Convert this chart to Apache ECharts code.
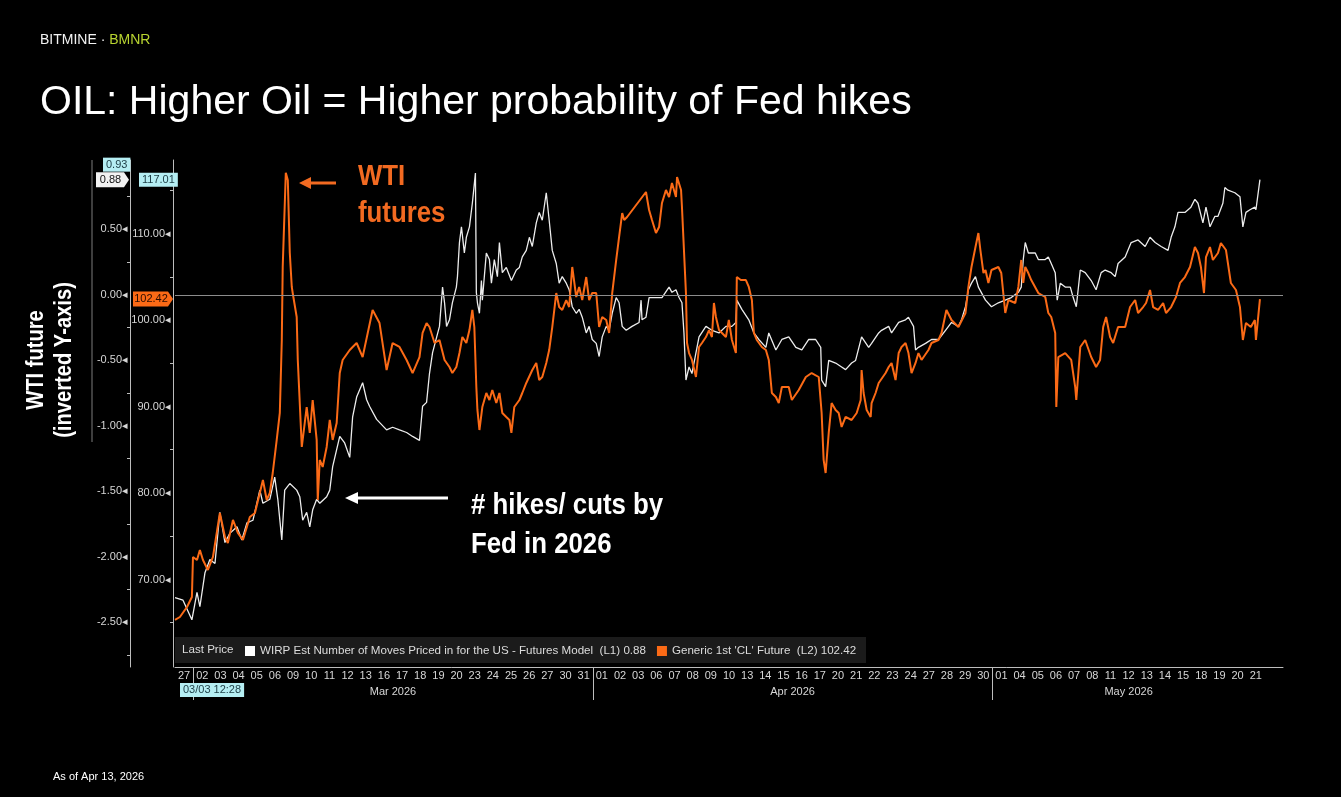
<!DOCTYPE html>
<html>
<head>
<meta charset="utf-8">
<title>OIL: Higher Oil = Higher probability of Fed hikes</title>
<script src="https://cdn.jsdelivr.net/npm/echarts@6/dist/echarts.min.js"></script>
<style>
  html, body { margin: 0; padding: 0; background: #000; }
  #chart { width: 1341px; height: 797px; }
</style>
</head>
<body>
<div id="chart"></div>
<script>
// trading days on the x axis (last slot is the empty right margin of the plot)
const dayLabels = ['27',
  '02', '03', '04', '05', '06', '09', '10', '11', '12', '13', '16', '17', '18', '19', '20', '23', '24', '25', '26', '27', '30', '31',
  '01', '02', '03', '06', '07', '08', '09', '10', '13', '14', '15', '16', '17', '20', '21', '22', '23', '24', '27', '28', '29', '30',
  '01', '04', '05', '06', '07', '08', '11', '12', '13', '14', '15', '18', '19', '20', '21', '']
const monthNames = ['Mar 2026', 'Apr 2026', 'May 2026']

const wirpName = 'WIRP Est Number of Moves Priced in for the US - Futures Model'
const wtiName = "Generic 1st 'CL' Future"
const wirpLast = 0.88
const wirpHigh = 0.93
const wtiLast = 102.42
const wtiHigh = 117.01

// L1 ticks / L2 ticks
const l1Labels = [-2.5, -2, -1.5, -1, -0.5, 0, 0.5]
const l1Minor = [-2.75, -2.25, -1.75, -1.25, -0.75, -0.25, 0.25, 0.75]
const l2Labels = [70, 80, 90, 100, 110]
const l2Minor = [65, 75, 85, 95, 105, 115]

// [trading day position, number of hikes/cuts priced]
const wirpPoints = [
  [0, -2.31], [0.44, -2.33], [0.93, -2.48], [1.21, -2.27], [1.37, -2.38], [1.65, -2.12], [1.92, -2.02], [2.2, -2.05],
  [2.47, -1.66], [2.75, -1.89], [3.02, -1.82], [3.41, -1.77], [3.68, -1.87], [3.96, -1.74], [4.29, -1.72], [4.67, -1.49],
  [4.84, -1.59], [5.22, -1.56], [5.49, -1.39], [5.66, -1.56], [5.88, -1.87], [6.04, -1.49], [6.32, -1.44], [6.7, -1.49],
  [6.87, -1.54], [7.03, -1.72], [7.25, -1.66], [7.42, -1.77], [7.58, -1.64], [7.8, -1.56], [7.97, -1.59], [8.35, -1.54],
  [8.52, -1.49], [8.68, -1.31], [9.07, -1.08], [9.34, -1.13], [9.62, -1.24], [9.78, -0.93], [10.0, -0.78], [10.33, -0.67],
  [10.55, -0.8], [10.71, -0.85], [11.1, -0.95], [11.65, -1.03], [11.98, -1.01], [12.36, -1.03], [12.75, -1.05], [13.08, -1.08],
  [13.46, -1.11], [13.63, -0.85], [13.85, -0.82], [14.01, -0.6], [14.18, -0.44], [14.56, -0.24], [14.73, 0.06], [14.84, -0.06],
  [14.95, -0.24], [15.11, -0.19], [15.27, -0.06], [15.49, 0.06], [15.55, 0.14], [15.66, 0.4], [15.77, 0.52], [15.93, 0.32],
  [16.04, 0.44], [16.21, 0.52], [16.37, 0.7], [16.54, 0.93], [16.59, 0.02], [16.65, -0.06], [16.76, -0.14], [16.87, 0.11],
  [16.92, -0.04], [17.14, 0.32], [17.31, 0.27], [17.42, 0.09], [17.58, 0.27], [17.75, 0.14], [17.86, 0.4], [18.02, 0.17],
  [18.24, 0.21], [18.52, 0.11], [18.79, 0.19], [18.96, 0.21], [19.12, 0.29], [19.34, 0.34], [19.51, 0.44], [19.67, 0.37],
  [19.89, 0.55], [20.05, 0.63], [20.22, 0.57], [20.44, 0.78], [20.6, 0.57], [20.77, 0.34], [20.99, 0.24], [21.15, 0.09],
  [21.32, 0.14], [21.54, 0.09], [21.7, 0.04], [21.87, -0.09], [22.09, -0.14], [22.25, -0.11], [22.42, -0.17], [22.64, -0.29],
  [22.8, -0.24], [22.97, -0.34], [23.19, -0.37], [23.35, -0.47], [23.52, -0.32], [23.74, -0.24], [23.9, -0.27], [24.07, -0.14],
  [24.29, -0.02], [24.45, -0.06], [24.62, -0.24], [24.84, -0.27], [25.16, -0.24], [25.55, -0.21], [25.66, -0.04], [25.71, -0.19],
  [25.93, -0.17], [26.1, -0.02], [26.48, -0.02], [26.81, -0.02], [27.2, 0.06], [27.36, 0.02], [27.58, 0.04], [27.75, -0.02],
  [27.91, -0.06], [28.02, -0.29], [28.13, -0.65], [28.3, -0.55], [28.46, -0.6], [28.85, -0.32], [29.23, -0.24], [29.56, -0.27],
  [29.95, -0.29], [30.33, -0.24], [30.66, -0.24], [30.88, -0.21], [30.93, -0.04], [31.21, -0.11], [31.59, -0.19], [31.87, -0.29],
  [32.14, -0.34], [32.53, -0.4], [32.69, -0.29], [33.08, -0.42], [33.41, -0.34], [33.79, -0.32], [34.18, -0.4], [34.51, -0.42],
  [34.89, -0.34], [35.27, -0.34], [35.55, -0.4], [35.6, -0.65], [35.82, -0.7], [35.99, -0.5], [36.37, -0.52], [36.7, -0.55],
  [36.92, -0.57], [37.25, -0.52], [37.47, -0.5], [37.8, -0.32], [38.19, -0.4], [38.35, -0.37], [38.74, -0.29], [38.9, -0.27],
  [39.29, -0.24], [39.45, -0.29], [39.84, -0.21], [40.22, -0.19], [40.38, -0.17], [40.66, -0.24], [40.77, -0.42], [40.93, -0.4],
  [41.32, -0.37], [41.65, -0.34], [42.03, -0.34], [42.42, -0.27], [42.75, -0.21], [43.13, -0.24], [43.3, -0.19], [43.52, -0.09],
  [43.68, 0.04], [43.85, 0.09], [44.07, 0.14], [44.23, 0.06], [44.62, -0.04], [44.95, -0.09], [45.33, -0.06], [45.71, -0.04],
  [46.04, -0.02], [46.43, 0.02], [46.59, 0.06], [46.7, 0.27], [46.81, 0.4], [46.98, 0.32], [47.36, 0.32], [47.53, 0.27],
  [47.91, 0.27], [48.08, 0.29], [48.24, 0.24], [48.46, 0.17], [48.57, -0.04], [48.74, 0.09], [49.01, 0.06], [49.29, 0.06],
  [49.45, -0.02], [49.62, -0.09], [49.84, 0.19], [50.11, 0.17], [50.44, 0.11], [50.71, 0.04], [50.99, 0.17], [51.21, 0.19],
  [51.54, 0.17], [51.76, 0.14], [51.92, 0.24], [52.31, 0.29], [52.64, 0.4], [53.02, 0.42], [53.41, 0.37], [53.68, 0.44],
  [53.96, 0.4], [54.29, 0.37], [54.67, 0.34], [54.84, 0.44], [55.05, 0.52], [55.22, 0.63], [55.6, 0.63], [55.93, 0.67],
  [56.15, 0.73], [56.32, 0.7], [56.59, 0.55], [56.76, 0.67], [56.98, 0.52], [57.25, 0.6], [57.42, 0.6], [57.69, 0.7],
  [57.8, 0.82], [57.97, 0.8], [58.35, 0.78], [58.63, 0.75], [58.79, 0.52], [58.96, 0.63], [59.18, 0.65], [59.45, 0.67],
  [59.51, 0.65], [59.73, 0.88]
]

// [trading day position, WTI front month, $/bbl]
const wtiPoints = [
  [0, 65.32], [0.27, 65.66], [0.66, 66.82], [0.93, 67.98], [0.99, 72.6], [1.21, 72.25], [1.37, 73.41], [1.54, 72.25],
  [1.81, 71.1], [2.09, 72.6], [2.47, 77.69], [2.75, 74.91], [2.91, 74.22], [3.19, 76.88], [3.46, 75.38], [3.74, 74.57],
  [4.12, 77.23], [4.4, 77.69], [4.67, 80.0], [4.84, 81.5], [5.05, 79.19], [5.22, 80.0], [5.38, 82.31], [5.6, 86.13],
  [5.77, 89.25], [5.88, 97.69], [5.93, 106.13], [6.1, 117.01], [6.21, 116.18], [6.32, 107.75], [6.43, 103.82], [6.48, 103.12],
  [6.7, 100.35], [6.76, 95.38], [6.87, 95.38], [6.98, 85.32], [7.25, 89.94], [7.42, 86.94], [7.58, 90.75], [7.8, 86.13],
  [7.86, 79.19], [7.97, 83.82], [8.13, 83.01], [8.35, 85.32], [8.52, 88.44], [8.68, 86.13], [8.9, 88.09], [9.07, 93.87],
  [9.23, 95.38], [9.62, 96.53], [9.78, 96.88], [10.0, 97.34], [10.33, 95.72], [10.88, 101.16], [11.26, 99.65], [11.65, 94.22],
  [11.98, 97.34], [12.36, 96.88], [12.75, 95.38], [13.08, 93.87], [13.46, 95.72], [13.63, 98.5], [13.85, 99.65], [14.01, 99.19],
  [14.29, 97.34], [14.56, 97.69], [14.84, 95.38], [15.11, 94.57], [15.27, 93.87], [15.49, 94.57], [15.66, 96.18], [15.82, 98.03],
  [16.04, 97.34], [16.21, 98.84], [16.37, 101.16], [16.48, 99.19], [16.59, 92.25], [16.65, 89.6], [16.76, 87.28], [16.92, 89.94],
  [17.14, 91.56], [17.31, 90.75], [17.47, 91.91], [17.69, 90.4], [17.86, 91.56], [18.02, 89.25], [18.24, 88.79], [18.41, 88.44],
  [18.52, 86.94], [18.68, 89.94], [18.96, 90.75], [19.12, 91.56], [19.34, 92.72], [19.67, 94.22], [19.89, 95.03], [20.05, 93.06],
  [20.22, 93.41], [20.44, 95.03], [20.6, 96.53], [20.77, 99.19], [20.99, 103.12], [21.15, 101.5], [21.32, 101.16], [21.54, 102.31],
  [21.7, 101.5], [21.87, 106.13], [22.09, 102.66], [22.25, 103.82], [22.42, 102.31], [22.64, 104.97], [22.8, 102.31], [22.97, 103.12],
  [23.19, 103.12], [23.35, 99.19], [23.52, 100.35], [23.74, 100.0], [23.9, 98.5], [24.07, 103.12], [24.29, 106.94], [24.45, 109.6],
  [24.62, 112.37], [24.73, 111.56], [24.89, 111.91], [25.93, 114.8], [26.1, 112.72], [26.26, 111.56], [26.48, 110.06], [26.65, 110.75],
  [26.81, 113.53], [27.03, 115.03], [27.2, 114.22], [27.36, 115.84], [27.58, 114.22], [27.64, 116.53], [27.86, 115.03], [27.91, 113.06],
  [28.13, 103.12], [28.19, 97.34], [28.3, 96.18], [28.46, 95.38], [28.68, 93.41], [28.85, 96.88], [29.01, 97.34], [29.23, 98.03],
  [29.4, 98.84], [29.56, 98.03], [29.67, 101.97], [29.78, 100.35], [29.95, 98.84], [30.33, 98.03], [30.49, 100.0], [30.66, 97.69],
  [30.88, 96.18], [30.93, 104.97], [31.15, 104.62], [31.43, 104.62], [31.59, 103.82], [31.76, 102.31], [31.87, 98.5], [32.03, 97.69],
  [32.31, 96.88], [32.53, 96.53], [32.69, 95.38], [32.86, 91.56], [33.08, 91.1], [33.24, 90.4], [33.41, 92.25], [33.79, 92.25],
  [33.96, 90.75], [34.34, 91.91], [34.73, 93.41], [35.05, 93.87], [35.44, 93.41], [35.6, 89.25], [35.71, 83.82], [35.82, 82.31],
  [35.99, 86.94], [36.15, 90.4], [36.37, 89.6], [36.54, 89.25], [36.7, 87.63], [36.92, 88.79], [37.25, 88.44], [37.53, 89.25],
  [37.75, 90.75], [37.8, 94.22], [37.91, 91.56], [38.08, 89.6], [38.3, 88.79], [38.35, 90.4], [38.57, 91.56], [38.74, 92.72],
  [39.12, 93.87], [39.29, 94.57], [39.45, 95.03], [39.67, 93.06], [39.84, 96.18], [40.0, 96.88], [40.22, 97.34], [40.38, 96.18],
  [40.55, 93.87], [40.77, 95.03], [40.93, 96.18], [41.1, 95.38], [41.48, 96.53], [41.65, 97.34], [42.03, 97.69], [42.2, 98.5],
  [42.47, 101.16], [42.75, 100.0], [43.13, 99.19], [43.52, 100.81], [43.68, 103.82], [43.85, 106.13], [44.07, 108.44], [44.23, 110.06],
  [44.34, 108.09], [44.51, 105.43], [44.62, 105.78], [44.78, 104.28], [44.95, 105.78], [45.33, 106.13], [45.49, 105.43], [45.71, 100.81],
  [45.88, 102.31], [46.26, 101.97], [46.43, 103.82], [46.59, 106.94], [46.7, 104.28], [46.81, 106.13], [46.98, 105.43], [47.14, 104.62],
  [47.53, 103.12], [47.91, 102.66], [48.08, 100.81], [48.24, 100.35], [48.46, 98.5], [48.52, 89.94], [48.63, 95.72], [49.01, 96.18],
  [49.34, 95.38], [49.56, 92.25], [49.62, 90.75], [49.84, 96.88], [50.11, 97.69], [50.44, 95.72], [50.71, 94.57], [50.93, 95.38],
  [51.1, 99.19], [51.26, 100.35], [51.48, 98.03], [51.65, 97.34], [51.92, 99.19], [52.31, 99.19], [52.58, 101.5], [52.86, 102.31],
  [53.02, 100.81], [53.3, 101.5], [53.46, 101.97], [53.68, 103.47], [53.85, 101.5], [54.12, 101.16], [54.4, 101.97], [54.56, 100.81],
  [54.84, 101.5], [55.11, 102.66], [55.33, 104.28], [55.6, 104.97], [55.88, 106.13], [56.15, 108.44], [56.32, 107.75], [56.48, 106.13],
  [56.65, 103.12], [56.76, 107.28], [56.98, 108.44], [57.14, 106.94], [57.42, 107.75], [57.58, 108.9], [57.86, 108.09], [58.13, 104.28],
  [58.41, 103.47], [58.63, 101.5], [58.79, 97.69], [58.96, 99.65], [59.23, 99.19], [59.45, 100.0], [59.51, 97.69], [59.73, 102.42]
]

// month separators and month-label centres, from where the day numbers restart
const monthStarts = []
dayLabels.forEach((d, i) => {
  if (i > 0 && d !== '' && +d < +dayLabels[i - 1]) monthStarts.push(i)
})
const lastDay = dayLabels.filter(d => d !== '').length
const monthMids = monthStarts.map((s, i) => (s + (monthStarts[i + 1] || lastDay)) / 2)

const FONT = "'Liberation Sans', Arial, sans-serif"
const ORANGE = '#fb6a16'
const AXIS = '#bdbdbd'
const TICK_TXT = '#d6d6d6'

const chart = echarts.init(document.getElementById('chart'))

chart.setOption({
  backgroundColor: '#000',
  animation: false,
  textStyle: { fontFamily: FONT },
  grid: { left: 175, right: 58, top: 160, bottom: 130 },
  legend: {
    left: 245,
    top: 645,
    padding: 0,
    selectedMode: false,
    icon: 'rect',
    itemWidth: 10,
    itemHeight: 10,
    itemGap: 11,
    data: [wirpName, wtiName],
    formatter: name => name === wirpName ? `${name}  (L1) ${wirpLast}` : `${name}  (L2) ${wtiLast}`,
    textStyle: { color: '#dcdcdc', fontSize: 11.6, fontFamily: FONT }
  },
  xAxis: [
    { type: 'value', min: 0, max: 61, show: false },
    {
      type: 'category',
      data: dayLabels,
      boundaryGap: true,
      position: 'bottom',
      axisLine: { onZero: false, lineStyle: { color: AXIS, width: 1 } },
      axisTick: { show: false },
      splitLine: { show: false },
      axisLabel: { color: TICK_TXT, fontSize: 11, interval: 0, margin: 3 }
    },
    {
      type: 'value',
      min: 0,
      max: 61,
      position: 'bottom',
      axisLine: { show: false, onZero: false },
      splitLine: { show: false },
      axisTick: { show: true, customValues: monthStarts, length: 33, lineStyle: { color: AXIS } },
      axisLabel: {
        customValues: monthMids,
        color: TICK_TXT,
        fontSize: 11,
        margin: 19,
        formatter: v => monthNames[monthMids.indexOf(v)] || ''
      }
    }
  ],
  yAxis: [
    {
      // L1: WIRP hikes / cuts
      type: 'value',
      position: 'left',
      offset: 45,
      min: -2.84,
      max: 1.03,
      splitLine: { show: false },
      axisLine: { show: true, onZero: false, lineStyle: { color: AXIS } },
      axisTick: { show: true, customValues: l1Minor, length: 3, lineStyle: { color: AXIS } },
      axisLabel: {
        customValues: l1Labels,
        color: TICK_TXT,
        fontSize: 11,
        margin: 2,
        formatter: v => v.toFixed(2) + '\u25C2'
      }
    },
    {
      // L2: WTI
      type: 'value',
      position: 'left',
      offset: 2,
      min: 59.88,
      max: 118.5,
      splitLine: { show: false },
      axisLine: { show: true, onZero: false, lineStyle: { color: AXIS } },
      axisTick: { show: true, customValues: l2Minor, length: 3, lineStyle: { color: AXIS } },
      axisLabel: {
        customValues: l2Labels,
        color: TICK_TXT,
        fontSize: 11,
        margin: 2,
        formatter: v => v.toFixed(2) + '\u25C2'
      }
    }
  ],
  series: [
    {
      name: wirpName,
      type: 'line',
      xAxisIndex: 0,
      yAxisIndex: 0,
      data: wirpPoints,
      showSymbol: false,
      itemStyle: { color: '#ffffff' },
      lineStyle: { color: '#ececec', width: 1.3 },
      markLine: {
        silent: true,
        symbol: ['none', 'none'],
        label: { show: false },
        lineStyle: { color: '#8c8c8c', width: 1, type: 'solid' },
        data: [{ yAxis: 0 }]
      }
    },
    {
      name: wtiName,
      type: 'line',
      xAxisIndex: 0,
      yAxisIndex: 1,
      data: wtiPoints,
      showSymbol: false,
      itemStyle: { color: ORANGE },
      lineStyle: { color: ORANGE, width: 2 }
    }
  ]
})

// value tags beside the axes, placed through the axis scales
const yWirp = chart.convertToPixel({ yAxisIndex: 0 }, wirpLast)
const yWti = chart.convertToPixel({ yAxisIndex: 1 }, wtiLast)

function arrowTag (id, right, cy, w, text, fill, color) {
  const h = 15
  return {
    type: 'group',
    id,
    z: 100,
    children: [
      {
        type: 'polygon',
        z: 100,
        shape: { points: [[right - w, cy - h / 2], [right - 5, cy - h / 2], [right, cy], [right - 5, cy + h / 2], [right - w, cy + h / 2]] },
        style: { fill }
      },
      {
        type: 'text',
        z: 101,
        style: { text, x: right - w / 2 - 2, y: cy, align: 'center', verticalAlign: 'middle', fill: color, font: `11px ${FONT}` }
      }
    ]
  }
}

function boxTag (id, x, cy, text, fill, color) {
  return {
    type: 'text',
    id,
    z: 100,
    style: {
      text, x, y: cy, align: 'left', verticalAlign: 'middle', fill: color, font: `11px ${FONT}`,
      backgroundColor: fill, padding: [2, 3, 1, 3]
    }
  }
}

function arrow (id, x1, x2, y, color, headLen, headHalf, width) {
  return {
    type: 'group',
    id,
    children: [
      { type: 'line', shape: { x1, y1: y, x2: x2 + headLen - 1, y2: y }, style: { stroke: color, lineWidth: width } },
      { type: 'polygon', shape: { points: [[x2, y], [x2 + headLen, y - headHalf], [x2 + headLen, y + headHalf]] }, style: { fill: color } }
    ]
  }
}

const big = (id, text, x, y, fill) => ({
  type: 'text', id, x, y, scaleX: 0.86,
  style: { text, x: 0, y: 0, fill, font: `bold 30px ${FONT}`, align: 'left', verticalAlign: 'middle' }
})

chart.setOption({
  graphic: [
    // header
    {
      type: 'text', id: 'brand',
      style: {
        text: '{a|BITMINE · }{b|BMNR}', x: 40, y: 40, verticalAlign: 'middle',
        rich: {
          a: { fill: '#f2f2f2', font: `14px ${FONT}` },
          b: { fill: '#b8d430', font: `14px ${FONT}` }
        }
      }
    },
    {
      type: 'text', id: 'title',
      style: { text: 'OIL: Higher Oil = Higher probability of Fed hikes', x: 40, y: 103, verticalAlign: 'middle', fill: '#ffffff', font: `41px ${FONT}` }
    },
    {
      type: 'text', id: 'asof',
      style: { text: 'As of Apr 13, 2026', x: 53, y: 777, verticalAlign: 'middle', fill: '#ffffff', font: `11px ${FONT}` }
    },
    // rotated axis caption
    {
      type: 'text', id: 'ycap1', x: 36, y: 360, rotation: Math.PI / 2, scaleX: 0.84,
      style: { text: 'WTI future', x: 0, y: 0, align: 'center', verticalAlign: 'middle', fill: '#ffffff', font: `bold 24px ${FONT}` }
    },
    {
      type: 'text', id: 'ycap2', x: 64, y: 360, rotation: Math.PI / 2, scaleX: 0.84,
      style: { text: '(inverted Y-axis)', x: 0, y: 0, align: 'center', verticalAlign: 'middle', fill: '#ffffff', font: `bold 24px ${FONT}` }
    },
    { type: 'line', id: 'scroll', shape: { x1: 92, y1: 160, x2: 92, y2: 442 }, style: { stroke: '#3e3e3e', lineWidth: 2 } },
    // legend strip
    { type: 'rect', id: 'legbg', z: -1, shape: { x: 175, y: 637, width: 691, height: 26 }, style: { fill: '#1b1b1b' } },
    {
      type: 'text', id: 'lastprice',
      style: { text: 'Last Price', x: 182, y: 650, verticalAlign: 'middle', fill: '#dcdcdc', font: `11.6px ${FONT}` }
    },
    // cursor date tag
    boxTag('cursor', 180, 690, '03/03 12:28', '#b5eef3', '#1b3c44'),
    // value tags
    boxTag('wirphigh', 103, yWirp - 15, wirpHigh.toFixed(2), '#b5eef3', '#1b3c44'),
    arrowTag('wirplast', 129, yWirp, 33, wirpLast.toFixed(2), '#f2f2f2', '#111111'),
    boxTag('wtihigh', 139, yWirp, wtiHigh.toFixed(2), '#b5eef3', '#1b3c44'),
    arrowTag('wtilast', 173, yWti, 40, wtiLast.toFixed(2), ORANGE, '#2a0c00'),
    // annotations
    big('wti1', 'WTI', 358, 177, '#f26a21'),
    big('wti2', 'futures', 358, 214, '#f26a21'),
    arrow('wtiarrow', 336, 299, 183, '#f26a21', 12, 6, 3),
    big('fed1', '# hikes/ cuts by', 471, 506, '#ffffff'),
    big('fed2', 'Fed in 2026', 471, 545, '#ffffff'),
    arrow('fedarrow', 448, 345, 498, '#ffffff', 13, 6, 3)
  ]
})
</script>
</body>
</html>
